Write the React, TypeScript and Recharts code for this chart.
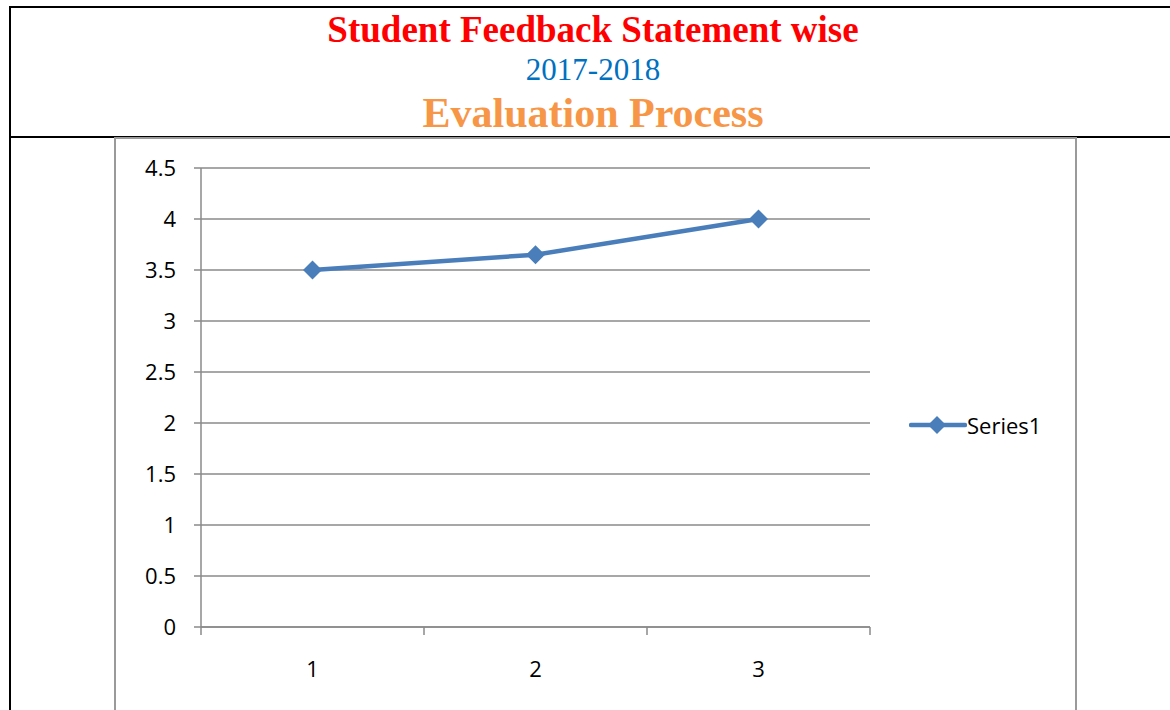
import React from "react";
import { LineChart, Line, XAxis, YAxis, CartesianGrid, Legend } from "recharts";

const categories = [1, 2, 3];
const series1Values = [3.5, 3.65, 4.0];
const yTicks = [0, 0.5, 1, 1.5, 2, 2.5, 3, 3.5, 4, 4.5];
const xTicks = [0.5, 1, 1.5, 2, 2.5, 3, 3.5];
const seriesName = "Series1";
const titleMain = "Student Feedback Statement wise";
const titleYear = "2017-2018";
const titleTopic = "Evaluation Process";

const data = categories.map((c, i) => ({ x: c, Series1: series1Values[i] }));

const LINE_COLOR = "#4A7EBB";
const GRID_COLOR = "#8A8A8A";
const FONT = "'Open Sans', sans-serif";
const TICK_SIZE_X = 8;
const TICK_MARGIN_X = 26;
const LEGEND_WIDTH = 160;

const Diamond = (props: any) => {
  const { cx, cy } = props;
  if (cx == null || cy == null) return null;
  const r = 9.5;
  return (
    <polygon
      points={`${cx},${cy - r} ${cx + r},${cy} ${cx},${cy + r} ${cx - r},${cy}`}
      fill={LINE_COLOR}
      stroke="none"
    />
  );
};

const XTick = (props: any) => {
  const { x, y, payload } = props;
  const v = payload.value;
  const axisY = y - TICK_MARGIN_X - TICK_SIZE_X;
  if (Math.abs(v - Math.round(v)) > 0.01) {
    return (
      <line x1={x} x2={x} y1={axisY} y2={axisY + TICK_SIZE_X} stroke={GRID_COLOR} strokeWidth={1.5} />
    );
  }
  return (
    <text x={x} y={y} dy="0.71em" textAnchor="middle" fill="#000" fontSize={22} fontFamily={FONT}>
      {v}
    </text>
  );
};

const LegendContent = () => (
  <div style={{ display: "flex", alignItems: "center", fontFamily: FONT, fontSize: 22, color: "#000" }}>
    <svg width={58} height={24} style={{ display: "block" }}>
      <line x1={2} x2={56} y1={12} y2={12} stroke={LINE_COLOR} strokeWidth={4.5} strokeLinecap="round" />
      <polygon points="28,3 37,12 28,21 19,12" fill={LINE_COLOR} />
    </svg>
    <span style={{ lineHeight: "24px" }}>{seriesName}</span>
  </div>
);

export default function App() {
  return (
    <div style={{ position: "absolute", left: 0, top: 0, width: 1170, height: 710, overflow: "hidden", background: "#fff" }}>
      {/* table borders */}
      <div style={{ position: "absolute", left: 9, top: 6, width: 1161, height: 2, background: "#000" }} />
      <div style={{ position: "absolute", left: 9, top: 6, width: 2, height: 704, background: "#000" }} />
      <div style={{ position: "absolute", left: 9, top: 136, width: 1161, height: 2, background: "#000" }} />
      {/* chart frame */}
      <div
        style={{
          position: "absolute",
          left: 114,
          top: 137,
          width: 959,
          height: 620,
          border: "2px solid #9A9A9A",
        }}
      />
      {/* titles */}
      <svg width={1170} height={140} style={{ position: "absolute", left: 0, top: 0 }}>
        <text x={593} y={41.7} textAnchor="middle" fontFamily="'Liberation Serif', 'Times New Roman', serif" fontWeight="bold" fontSize={37} fill="#FF0000">
          {titleMain}
        </text>
        <text x={593} y={79.5} textAnchor="middle" fontFamily="'Liberation Serif', 'Times New Roman', serif" fontSize={31} fill="#0070C0">
          {titleYear}
        </text>
        <text x={593} y={126.7} textAnchor="middle" fontFamily="'Liberation Serif', 'Times New Roman', serif" fontWeight="bold" fontSize={42} fill="#F79646">
          {titleTopic}
        </text>
      </svg>
      <div style={{ position: "absolute", left: 0, top: 0 }}>
        <LineChart
          width={1170}
          height={710}
          data={data}
          margin={{ top: 168, right: 300 - LEGEND_WIDTH, bottom: 43, left: 0 }}
        >
          <CartesianGrid vertical={false} stroke={GRID_COLOR} strokeWidth={1.5} />
          <XAxis
            dataKey="x"
            type="number"
            domain={[0.5, 3.5]}
            ticks={xTicks}
            interval={0}
            height={40}
            axisLine={{ stroke: GRID_COLOR, strokeWidth: 1.5 }}
            tickLine={false}
            tickSize={TICK_SIZE_X}
            tickMargin={TICK_MARGIN_X}
            tick={<XTick />}
          />
          <YAxis
            type="number"
            domain={[0, 4.5]}
            ticks={yTicks}
            interval={0}
            width={201}
            axisLine={{ stroke: GRID_COLOR, strokeWidth: 1.5 }}
            tickLine={{ stroke: GRID_COLOR, strokeWidth: 1.5 }}
            tickSize={7}
            tickMargin={18}
            tick={{ fill: "#000", fontSize: 22, fontFamily: FONT }}
          />
          <Legend
            layout="horizontal"
            verticalAlign="middle"
            align="right"
            content={<LegendContent />}
            wrapperStyle={{ position: "absolute", left: 909, top: 413, width: LEGEND_WIDTH, right: "auto", bottom: "auto" }}
          />
          <Line
            type="linear"
            dataKey="Series1"
            name={seriesName}
            stroke={LINE_COLOR}
            strokeWidth={4.5}
            dot={<Diamond />}
            activeDot={false}
            isAnimationActive={false}
          />
        </LineChart>
      </div>
    </div>
  );
}
